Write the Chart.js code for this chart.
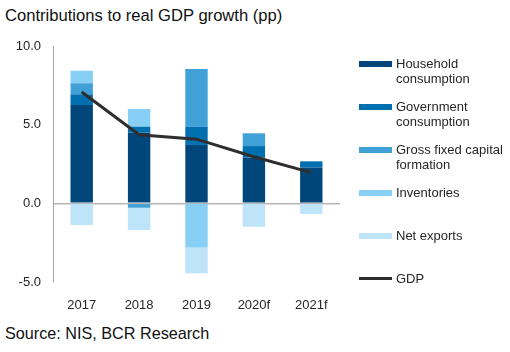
<!DOCTYPE html>
<html>
<head>
<meta charset="utf-8">
<script src="https://cdn.jsdelivr.net/npm/chart.js@4/dist/chart.umd.min.js"></script>
<style>
  html, body { margin: 0; padding: 0; background: #fff; }
  #wrap { position: relative; width: 510px; height: 352px; font-family: "Liberation Sans", Arial, sans-serif; overflow: hidden; }
  #title { position: absolute; left: 5px; top: 6px; font-size: 16.6px; line-height: 19px; color: #111; white-space: nowrap; }
  #chartBox { position: absolute; left: 0; top: 0; width: 510px; height: 312px; }
  #legend { position: absolute; left: 359px; top: 56px; width: 150px; }
  .item { position: relative; height: 43px; font-size: 13px; line-height: 15px; color: #262626; }
  .swatch { position: absolute; left: 0; top: 5px; width: 33px; height: 6px; }
  .swatch.line { top: 6px; height: 3px; }
  .label { position: absolute; left: 37px; top: 0; white-space: nowrap; }
  #source { position: absolute; left: 5px; top: 324px; font-size: 16.2px; line-height: 18px; color: #111; white-space: nowrap; }
</style>
</head>
<body>
<div id="wrap">
  <div id="title">Contributions to real GDP growth (pp)</div>
  <div id="chartBox"><canvas id="chart"></canvas></div>
  <div id="legend"></div>
  <div id="source">Source: NIS, BCR Research</div>
</div>
<script>
// data
const years = ["2017", "2018", "2019", "2020f", "2021f"];
const household = [6.25, 4.49, 3.71, 2.9, 2.27];
const government = [0.68, 0.38, 1.16, 0.74, 0.4];
const grossCapital = [0.7, -0.28, 3.67, 0.81, 0];
const inventories = [0.8, 1.13, -2.8, 0, 0];
const netExports = [-1.38, -1.42, -1.65, -1.49, -0.68];
const gdp = [7.08, 4.36, 4.08, 2.96, 1.95];

const barSeries = [
  { label: ["Household", "consumption"], data: household, color: "#00467a" },
  { label: ["Government", "consumption"], data: government, color: "#0070b0" },
  { label: ["Gross fixed capital", "formation"], data: grossCapital, color: "#40a1d7" },
  { label: ["Inventories"], data: inventories, color: "#87cff4" },
  { label: ["Net exports"], data: netExports, color: "#bee4f9" },
];
const gdpColor = "#2e2e2e";

const tickFont = { family: "Liberation Sans", size: 13 };

const datasets = barSeries.map((s) => ({
  type: "bar",
  label: s.label.join(" "),
  data: s.data,
  backgroundColor: s.color,
  borderWidth: 0,
  order: 1,
}));
datasets.push({
  type: "line",
  label: "GDP",
  data: gdp,
  borderColor: gdpColor,
  borderWidth: 3,
  pointRadius: 0,
  tension: 0,
  order: 0,
});

const chart = new Chart(document.getElementById("chart"), {
  data: { labels: years, datasets: datasets },
  options: {
    responsive: true,
    maintainAspectRatio: false,
    animation: false,
    layout: { padding: { top: 46, right: 170, left: 0, bottom: 0 } },
    categoryPercentage: 1,
    barPercentage: 0.39,
    plugins: { legend: { display: false }, tooltip: { enabled: false } },
    scales: {
      x: {
        stacked: true,
        grid: { display: false },
        border: { display: false },
        ticks: { color: "#262626", font: tickFont, padding: 8 },
        afterFit: (scale) => { scale.height = 30; },
      },
      y: {
        stacked: true,
        min: -5,
        max: 10,
        grid: {
          drawTicks: false,
          color: (ctx) => (ctx.tick && ctx.tick.value === 0 ? "#b5b5b5" : "rgba(0,0,0,0)"),
          lineWidth: 1.5,
        },
        border: { display: true, color: "#a6a6a6", width: 1 },
        ticks: {
          stepSize: 5,
          color: "#262626",
          font: tickFont,
          padding: 12,
          callback: (v) => v.toFixed(1),
        },
        afterFit: (scale) => { scale.width = 53; },
      },
    },
  },
});

// html legend built from the chart datasets
const legendBox = document.getElementById("legend");
barSeries.forEach((s) => {
  legendBox.insertAdjacentHTML(
    "beforeend",
    `<div class="item"><div class="swatch" style="background:${s.color}"></div><div class="label">${s.label.join("<br>")}</div></div>`
  );
});
legendBox.insertAdjacentHTML(
  "beforeend",
  `<div class="item"><div class="swatch line" style="background:${gdpColor}"></div><div class="label">GDP</div></div>`
);
</script>
</body>
</html>
